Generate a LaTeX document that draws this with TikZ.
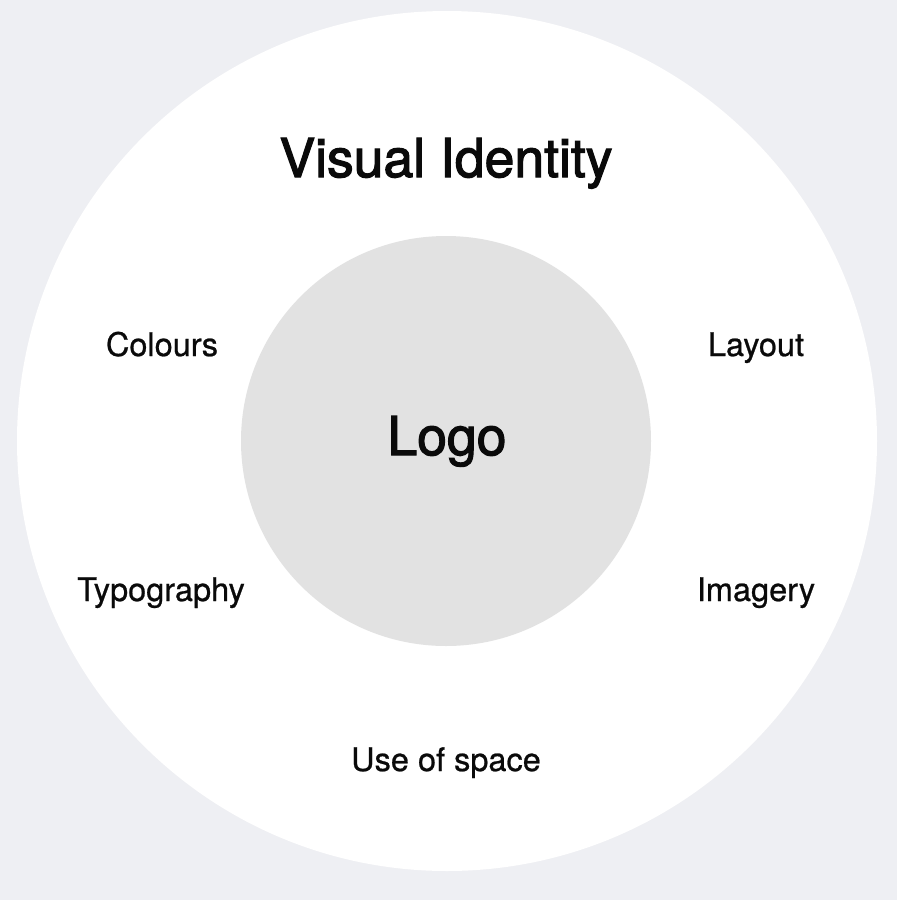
\documentclass[tikz,border=0pt]{standalone}
\usepackage{fontspec}
\setmainfont{TeX Gyre Heros}
\newfontfamily\medfont[FakeBold=2.2]{TeX Gyre Heros}
\newfontfamily\lblfont[FakeBold=0.7]{TeX Gyre Heros}
\definecolor{bgc}{HTML}{EEEFF3}
\definecolor{innerc}{HTML}{E2E2E2}
\definecolor{txt}{HTML}{0A0A0A}
\begin{document}
\begin{tikzpicture}[x=1pt,y=-1pt,
  title/.style={anchor=base,inner sep=0pt,text=txt,font=\medfont\fontsize{53.5}{60}\selectfont},
  lbl/.style={anchor=base,inner sep=0pt,text=txt,font=\lblfont\fontsize{32.5}{38}\selectfont}]
\fill[bgc] (0,0) rectangle (897,900);
\useasboundingbox (0,0) rectangle (897,900);
\fill[white] (447,441) circle (430);
\fill[innerc] (446,441) circle (205);
\node[title] (vi) at (446,177) {Visual Identity};
\node[title] (logo) at (447,455) {Logo};
\node[lbl] (col) at (162,356) {Colours};
\node[lbl] (lay) at (756,356) {Layout};
\node[lbl] (typ) at (161,601) {Typography};
\node[lbl] (img) at (756,601) {Imagery};
\node[lbl] (use) at (446,771) {Use of space};
\end{tikzpicture}
\end{document}
